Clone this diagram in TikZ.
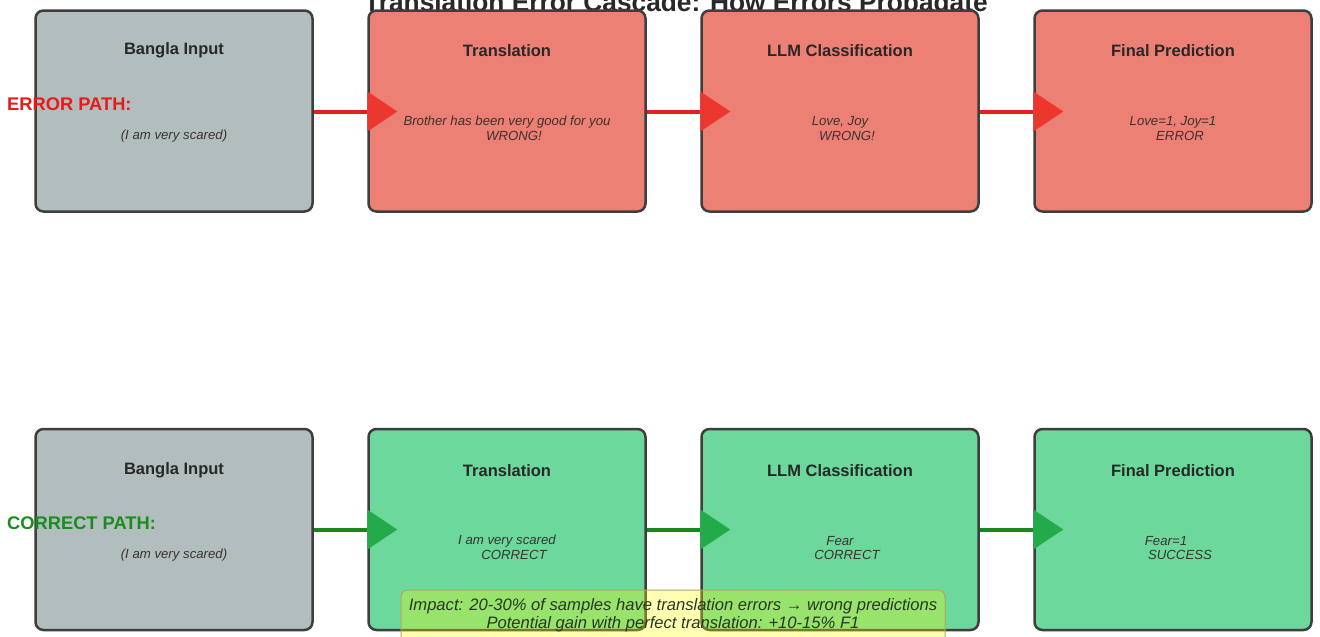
\documentclass[tikz,border=0pt]{standalone}
\usepackage{fontspec}
\setmainfont{Liberation Sans}
\begin{document}
\begin{tikzpicture}[x=1pt,y=-1pt,
  stage/.style={draw=boxline, line width=2.5pt, rounded corners=8pt, minimum width=277pt, minimum height=201pt, inner sep=0pt},
  graybox/.style={stage, fill=grayfill},
  redbox/.style={stage, fill=redfill},
  greenbox/.style={stage, fill=greenfill},
  stitle/.style={font=\fontsize{16.5}{19}\selectfont\bfseries, text=titletext, inner sep=0pt},
  body/.style={font=\fontsize{13.2}{15}\selectfont\itshape, text=bodytext, inner sep=0pt},
  pathlabel/.style={font=\fontsize{18.3}{20}\selectfont\bfseries, inner sep=0pt, anchor=west},
  redline/.style={draw=errline, line width=4pt},
  greenline/.style={draw=okline, line width=4pt},
]
\definecolor{boxline}{RGB}{62,62,62}
\definecolor{grayfill}{RGB}{178,190,190}
\definecolor{redfill}{RGB}{236,128,116}
\definecolor{greenfill}{RGB}{108,216,155}
\definecolor{titletext}{RGB}{40,40,40}
\definecolor{bodytext}{RGB}{60,50,50}
\definecolor{errline}{RGB}{230,30,30}
\definecolor{errhead}{RGB}{235,55,45}
\definecolor{okline}{RGB}{25,135,30}
\definecolor{okhead}{RGB}{35,170,75}
\definecolor{errlabel}{RGB}{235,25,25}
\definecolor{oklabel}{RGB}{25,140,30}
\definecolor{impactfill}{RGB}{255,255,0}
\definecolor{impactline}{RGB}{175,170,90}
\definecolor{impacttext}{RGB}{40,55,35}

\useasboundingbox (0,0) rectangle (1320,637);
\clip (0,0) rectangle (1320,637);
\fill[white] (0,0) rectangle (1320,637);

% clipped title
\node[font=\fontsize{26.3}{30}\selectfont\bfseries, text=titletext, anchor=base, inner sep=0pt] (title) at (676,11) {Translation Error Cascade: How Errors Propagate};

% error row
\node[graybox]  (e1) at (174,111) {};
\node[redbox]   (e2) at (507,111) {};
\node[redbox]   (e3) at (840,111) {};
\node[redbox]   (e4) at (1173,111) {};

% correct row
\node[graybox]  (c1) at (174,529.5) {};
\node[greenbox] (c2) at (507,529.5) {};
\node[greenbox] (c3) at (840,529.5) {};
\node[greenbox] (c4) at (1173,529.5) {};

% titles
\foreach \r/\y in {e/50.5,c/470.5}{
  \node[stitle] (\r1t) at (174,\y) {Bangla Input};
  \node[stitle] (\r2t) at (507,\y) {Translation};
  \node[stitle] (\r3t) at (840,\y) {LLM Classification};
  \node[stitle] (\r4t) at (1173,\y) {Final Prediction};
}

% body texts, error row
\node[body] (e1b) at (174,136) {(I am very scared)};
\node[body] (e2a) at (507,122) {Brother has been very good for you};
\node[body] (e2b) at (514,136) {WRONG!};
\node[body] (e3a) at (840,122) {Love, Joy};
\node[body] (e3b) at (847,136) {WRONG!};
\node[body] (e4a) at (1173,122) {Love=1, Joy=1};
\node[body] (e4b) at (1180,136) {ERROR};

% body texts, correct row
\node[body] (c1b) at (174,555) {(I am very scared)};
\node[body] (c2a) at (507,541) {I am very scared};
\node[body] (c2b) at (514,555) {CORRECT};
\node[body] (c3a) at (840,541) {Fear};
\node[body] (c3b) at (847,555) {CORRECT};
\node[body] (c4a) at (1166,541) {Fear=1};
\node[body] (c4b) at (1180,555) {SUCCESS};

% connectors
\foreach \a/\b in {1/2,2/3,3/4}{
  \draw[redline] ([yshift=-0.5pt]e\a.east) -- ([yshift=-0.5pt]e\b.west);
  \fill[errhead] ([yshift=-20.5pt]e\b.west) -- ([xshift=30pt,yshift=-0.5pt]e\b.west) -- ([yshift=19.5pt]e\b.west) -- cycle;
  \draw[greenline] (c\a.east) -- (c\b.west);
  \fill[okhead] ([yshift=-20pt]c\b.west) -- ([xshift=30pt]c\b.west) -- ([yshift=20pt]c\b.west) -- cycle;
}

% path labels
\node[pathlabel, text=errlabel] (errlab) at (7,104) {ERROR PATH:};
\node[pathlabel, text=oklabel] (oklab) at (7,523) {CORRECT PATH:};

% impact box
\draw[draw=impactline, line width=1pt, fill=impactfill, fill opacity=0.3, rounded corners=7pt] (401,590) rectangle (945,650);
\node[font=\fontsize{16.6}{18}\selectfont\itshape, text=impacttext, align=center, inner sep=0pt] (impact) at (673,615)
  {Impact: 20-30\% of samples have translation errors → wrong predictions\\Potential gain with perfect translation: +10-15\% F1};
\end{tikzpicture}
\end{document}
